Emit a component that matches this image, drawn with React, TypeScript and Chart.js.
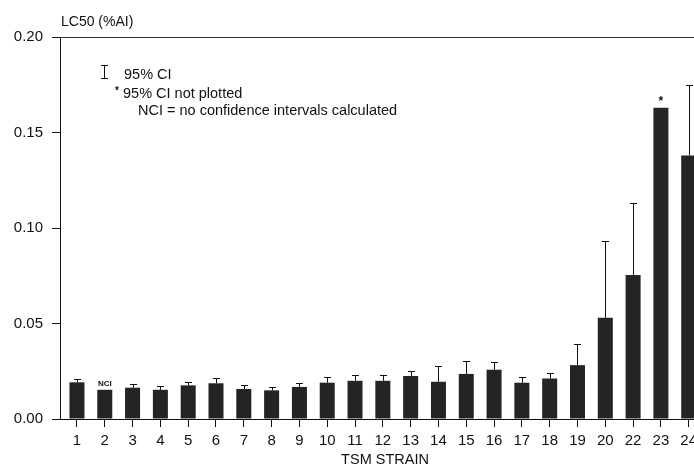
import React, { useEffect, useRef } from 'react';
import { Chart, registerables } from 'chart.js';

Chart.register(...registerables);

// TSM strains (x categories)
const categories = ['1', '2', '3', '4', '5', '6', '7', '8', '9', '10', '11', '12', '13', '14', '15', '16', '17', '18', '19', '20', '22', '23', '24'];
// LC50 values (%AI)
const lc50 = [0.0192, 0.0153, 0.0164, 0.0153, 0.0176, 0.0187, 0.0157, 0.015, 0.0168, 0.019, 0.02, 0.02, 0.0225, 0.0195, 0.0236, 0.0258, 0.019, 0.0212, 0.0282, 0.053, 0.0754, 0.163, 0.138];
// Upper 95% confidence limit (null = not plotted / not calculated)
const ciUpper: (number | null)[] = [0.0209, null, 0.0182, 0.0173, 0.0194, 0.0213, 0.0176, 0.0166, 0.019, 0.0218, 0.023, 0.023, 0.025, 0.0275, 0.0305, 0.0296, 0.022, 0.024, 0.0394, 0.093, 0.113, null, 0.175];
// Notes above bars
const notes = ['', 'NCI', '', '', '', '', '', '', '', '', '', '', '', '', '', '', '', '', '', '', '', '*', ''];
// Y tick values
const yTicks = [0, 0.05, 0.1, 0.15, 0.2];

const FONT = '"Liberation Sans", Arial, Helvetica, sans-serif';
const INK = '#111111';

const overlayPlugin = {
  id: 'overlay',
  afterDatasetsDraw(chart: any) {
    const { ctx, chartArea, scales } = chart;
    const y = scales.y;
    const meta = chart.getDatasetMeta(0);
    ctx.save();
    // error bars
    ctx.strokeStyle = INK;
    ctx.lineWidth = 1;
    meta.data.forEach((bar: any, i: number) => {
      const up = ciUpper[i];
      if (up == null) return;
      const x = Math.round(bar.x) + 0.5;
      const yb = y.getPixelForValue(lc50[i]);
      const yt = Math.round(y.getPixelForValue(up)) + 0.5;
      ctx.beginPath();
      ctx.moveTo(x, yb);
      ctx.lineTo(x, yt);
      ctx.moveTo(x - 3.5, yt);
      ctx.lineTo(x + 3.5, yt);
      ctx.stroke();
    });
    // notes above bars
    ctx.fillStyle = INK;
    ctx.textAlign = 'center';
    ctx.textBaseline = 'alphabetic';
    meta.data.forEach((bar: any, i: number) => {
      const n = notes[i];
      if (!n) return;
      if (n === '*') {
        ctx.font = `bold 12px ${FONT}`;
        ctx.fillText(n, bar.x, y.getPixelForValue(lc50[i]) - 3);
      } else {
        ctx.font = `bold 8px ${FONT}`;
        ctx.fillText(n, bar.x, y.getPixelForValue(lc50[i]) - 4);
      }
    });
    // top frame line
    ctx.strokeStyle = '#333';
    ctx.beginPath();
    ctx.moveTo(chartArea.left, Math.round(chartArea.top) + 0.5);
    ctx.lineTo(chartArea.right, Math.round(chartArea.top) + 0.5);
    ctx.stroke();
    // x axis extension to the left of the y axis
    ctx.strokeStyle = INK;
    ctx.beginPath();
    ctx.moveTo(chartArea.left - 6, Math.round(chartArea.bottom) + 0.5);
    ctx.lineTo(chartArea.left, Math.round(chartArea.bottom) + 0.5);
    ctx.stroke();
    // y axis title
    ctx.font = `14px ${FONT}`;
    ctx.textAlign = 'left';
    ctx.textBaseline = 'middle';
    ctx.fillText('LC50 (%AI)', chartArea.left + 1, 22);
    // x axis title
    ctx.font = `14.5px ${FONT}`;
    ctx.textAlign = 'center';
    ctx.fillText('TSM STRAIN', chartArea.left + 325, 460);
    // legend in plot
    ctx.textAlign = 'left';
    const lx = chartArea.left + 44;
    ctx.lineWidth = 1;
    ctx.beginPath();
    ctx.moveTo(lx + 0.5, 65);
    ctx.lineTo(lx + 0.5, 79);
    ctx.moveTo(lx - 3, 65.5);
    ctx.lineTo(lx + 4, 65.5);
    ctx.moveTo(lx - 3, 78.5);
    ctx.lineTo(lx + 4, 78.5);
    ctx.stroke();
    ctx.font = `14.5px ${FONT}`;
    ctx.fillText('95% CI', chartArea.left + 64, 75);
    ctx.font = `bold 10px ${FONT}`;
    ctx.fillText('*', chartArea.left + 55, 91);
    ctx.font = `14.5px ${FONT}`;
    ctx.fillText('95% CI not plotted', chartArea.left + 63, 93.5);
    ctx.fillText('NCI = no confidence intervals calculated', chartArea.left + 78, 110.5);
    ctx.restore();
  },
};

export default function App() {
  const ref = useRef<HTMLCanvasElement>(null);
  useEffect(() => {
    if (!ref.current) return;
    Chart.defaults.font.family = FONT;
    Chart.defaults.color = INK;
    const chart = new Chart(ref.current, {
      type: 'bar',
      data: {
        datasets: [
          {
            data: lc50.map((v, i) => ({ x: i + 1, y: v })),
            backgroundColor: '#242424',
            borderWidth: 0,
            categoryPercentage: 1,
            barPercentage: 0.54,
          },
        ],
      },
      options: {
        animation: false,
        responsive: false,
        devicePixelRatio: 1,
        layout: { padding: { top: 37, left: 0, right: 0, bottom: 0 } },
        plugins: { legend: { display: false }, tooltip: { enabled: false }, title: { display: false } },
        scales: {
          x: {
            type: 'linear',
            offset: false,
            min: 0.39,
            max: 23.19,
            afterBuildTicks: (s: any) => {
              s.ticks = categories.map((_, i) => ({ value: i + 1 }));
            },
            afterFit: (s: any) => {
              s.height = 49;
              s.paddingLeft = 0;
              s.paddingRight = 0;
            },
            ticks: {
              autoSkip: false,
              maxRotation: 0,
              padding: 5,
              font: { size: 15 },
              color: INK,
              callback: (v: any) => categories[Math.round(v) - 1] ?? '',
            },
            grid: { display: true, offset: false, drawOnChartArea: false, drawTicks: true, tickLength: 8, color: INK, lineWidth: 1 },
            border: { display: true, color: INK, width: 1 },
            title: { display: false },
          },
          y: {
            type: 'linear',
            min: 0,
            max: 0.2,
            afterBuildTicks: (s: any) => {
              s.ticks = yTicks.map((v) => ({ value: v }));
            },
            afterFit: (s: any) => {
              s.width = 60;
            },
            ticks: {
              padding: 9,
              font: { size: 15 },
              color: INK,
              callback: (v: any) => Number(v).toFixed(2),
            },
            grid: { display: true, drawOnChartArea: false, drawTicks: true, tickLength: 8, color: INK, lineWidth: 1 },
            border: { display: true, color: INK, width: 1 },
          },
        },
      },
      plugins: [overlayPlugin],
    } as any);
    return () => chart.destroy();
  }, []);
  return (
    <div style={{ position: 'fixed', left: 0, top: 0, width: 694, height: 468, background: '#fff' }}>
      <canvas ref={ref} width={694} height={468} style={{ width: 694, height: 468, display: 'block' }} />
    </div>
  );
}
